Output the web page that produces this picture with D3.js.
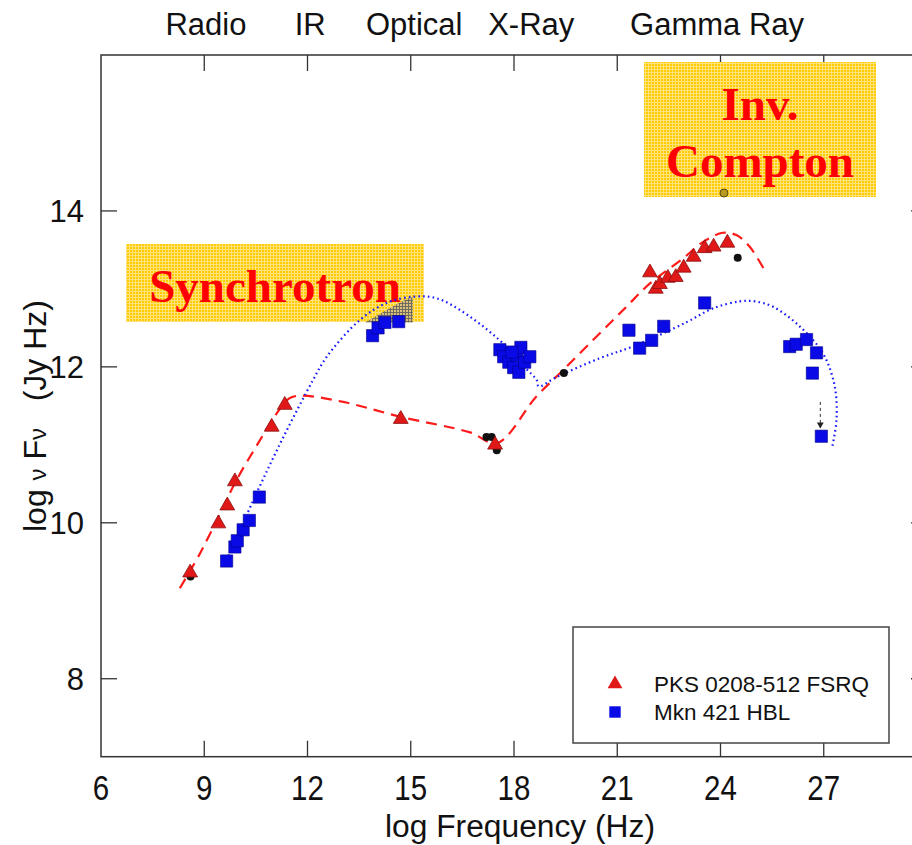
<!DOCTYPE html>
<meta charset="utf-8">
<html>
<head>
<style>
body { margin: 0; background: #fff; }
text { font-family: "Liberation Sans", Arial, sans-serif; fill: #111; }
.ann { font-family: "Liberation Serif", "Times New Roman", serif; font-weight: bold; fill: #ff0000; }
</style>
</head>
<body>
<svg id="chart" width="912" height="845"></svg>
<script src="https://d3js.org/d3.v7.min.js"></script>
<script>
// band labels along the top (log frequency where they sit)
var bandNames = ["Radio", "IR", "Optical", "X-Ray", "Gamma Ray"];
var bandPos = [9.05, 12.08, 15.1, 18.5, 23.9];

var xTicks = [6, 9, 12, 15, 18, 21, 24, 27];
var yTicks = [8, 10, 12, 14];

// PKS 0208-512 FSRQ (red triangles)
var fsrqX = [8.59, 9.41, 9.67, 9.89, 10.96, 11.34, 14.71, 17.45,
             21.95, 22.12, 22.24, 22.47, 22.7, 22.93, 23.22, 23.54, 23.8, 24.2];
var fsrqY = [9.36, 9.99, 10.22, 10.53, 11.23, 11.51, 11.33, 11.0,
             13.21, 13.0, 13.06, 13.14, 13.15, 13.27, 13.41, 13.52, 13.54, 13.59];

// Mkn 421 HBL (blue squares)
var hblX = [9.65, 9.89, 9.96, 10.13, 10.31, 10.6,
            13.89, 14.05, 14.25, 14.65,
            17.59, 17.7, 17.85, 17.99, 18.14, 18.08, 18.2, 18.31, 18.46, 17.94,
            21.34, 21.65, 22.0, 22.35, 23.54,
            26.01, 26.2, 26.5, 26.79, 26.67, 26.93];
var hblY = [9.51, 9.69, 9.77, 9.91, 10.03, 10.33,
            12.4, 12.5, 12.57, 12.58,
            12.22, 12.13, 12.06, 11.99, 11.93, 12.15, 12.25, 12.06, 12.13, 12.19,
            12.47, 12.24, 12.34, 12.52, 12.82,
            12.26, 12.29, 12.35, 12.18, 11.92, 11.11];

// model curves
var fsrqModelX = [8.29, 8.88, 9.46, 9.94, 10.62, 11.1, 11.49, 11.83, 13.04, 14.7, 16.72, 17.5,
                  18.65, 19.43, 20.4, 21.22, 21.95, 22.91, 23.49, 24.07, 24.46, 24.85, 25.33];
var fsrqModelY = [9.16, 9.61, 10.12, 10.55, 11.06, 11.4, 11.6, 11.63, 11.55, 11.36, 11.16, 11.02,
                  11.62, 11.96, 12.39, 12.75, 13.07, 13.39, 13.6, 13.72, 13.69, 13.54, 13.2];
var hblModelX = [9.65, 10.52, 11.3, 12.16, 12.56, 13.52, 14.3, 15.07, 15.75, 16.7, 17.78, 18.3, 18.66, 18.72,
                 19.24, 20.49, 21.5, 23.0, 23.78, 24.56, 25.0, 25.53, 26.3, 26.98, 27.32, 27.37, 27.25];
var hblModelY = [9.52, 10.38, 11.1, 11.83, 12.13, 12.6, 12.82, 12.9, 12.88, 12.65, 12.26, 12.0, 11.83, 11.75,
                 11.87, 12.11, 12.27, 12.57, 12.75, 12.84, 12.84, 12.77, 12.52, 12.17, 11.75, 11.32, 10.98];

// small black archival points
var otherX = [8.6, 17.2, 17.35, 17.5, 19.45, 24.5];
var otherY = [9.31, 11.1, 11.1, 10.93, 11.92, 13.4];

var svg = d3.select("#chart");

var x = d3.scaleLinear().domain([6, 30]).range([101, 927]);
var y = d3.scaleLinear().domain([7, 16]).range([756.7, 55]);

var defs = svg.append("defs");
var pat = defs.append("pattern").attr("id", "yel").attr("width", 3).attr("height", 3)
  .attr("patternUnits", "userSpaceOnUse");
pat.append("rect").attr("width", 3).attr("height", 3).attr("fill", "#ffcc00");
pat.append("path").attr("d", "M0,0.5H3M0.5,0V3").attr("stroke", "#ffe27a").attr("stroke-width", 1);
var gp = defs.append("pattern").attr("id", "gry").attr("width", 3).attr("height", 3)
  .attr("patternUnits", "userSpaceOnUse");
gp.append("rect").attr("width", 3).attr("height", 3).attr("fill", "#d8c27a");
gp.append("path").attr("d", "M0,0.5H3M0.5,0V3").attr("stroke", "#706a60").attr("stroke-width", 1);

// frame
svg.append("rect").attr("x", x(6)).attr("y", y(16))
  .attr("width", x(30) - x(6)).attr("height", y(7) - y(16))
  .attr("fill", "none").attr("stroke", "#333").attr("stroke-width", 1.5);

// ticks (inward on all sides)
var tk = svg.append("g").attr("stroke", "#333").attr("stroke-width", 1.3);
xTicks.slice(1).forEach(function(t) {
  tk.append("line").attr("x1", x(t)).attr("x2", x(t)).attr("y1", y(7)).attr("y2", y(7) - 16);
  tk.append("line").attr("x1", x(t)).attr("x2", x(t)).attr("y1", y(16)).attr("y2", y(16) + 16);
});
yTicks.forEach(function(t) {
  tk.append("line").attr("x1", x(6)).attr("x2", x(6) + 16).attr("y1", y(t)).attr("y2", y(t));
  tk.append("line").attr("x1", x(30)).attr("x2", x(30) - 16).attr("y1", y(t)).attr("y2", y(t));
});

// tick labels
svg.append("g").selectAll("text").data(xTicks).enter().append("text")
  .attr("transform", function(d) { return "translate(" + x(d) + ",800) scale(0.82,1)"; })
  .attr("text-anchor", "middle").attr("font-size", 36).text(function(d) { return d; });
svg.append("g").selectAll("text").data(yTicks).enter().append("text")
  .attr("x", 84).attr("y", function(d) { return y(d) + 11; })
  .attr("text-anchor", "end").attr("font-size", 31).text(function(d) { return d; });

// axis titles
svg.append("text").attr("x", 520).attr("y", 837).attr("text-anchor", "middle")
  .attr("font-size", 31).attr("textLength", 270).attr("lengthAdjust", "spacingAndGlyphs")
  .text("log Frequency (Hz)");
var yt = svg.append("text").attr("transform", "translate(46,416) rotate(-90)")
  .attr("text-anchor", "middle").attr("font-size", 32);
yt.append("tspan").text("log ");
yt.append("tspan").attr("font-size", 24).text("ν");
yt.append("tspan").text(" F");
yt.append("tspan").attr("font-size", 24).text("ν");
yt.append("tspan").text("\u00a0\u00a0\u00a0(Jy Hz)");

// band labels
svg.append("g").selectAll("text").data(bandNames).enter().append("text")
  .attr("x", function(d, i) { return x(bandPos[i]); }).attr("y", 35)
  .attr("text-anchor", "middle").attr("font-size", 31).text(function(d) { return d; });

// annotation boxes
svg.append("rect").attr("x", 126).attr("y", 244).attr("width", 298).attr("height", 78).attr("fill", "url(#yel)");
svg.append("rect").attr("x", 644).attr("y", 62).attr("width", 232).attr("height", 135).attr("fill", "url(#yel)");
svg.append("text").attr("class", "ann").attr("x", 275).attr("y", 302).attr("text-anchor", "middle")
  .attr("font-size", 47).text("Synchrotron");
svg.append("text").attr("class", "ann").attr("x", 760).attr("y", 120).attr("text-anchor", "middle")
  .attr("font-size", 47).text("Inv.");
svg.append("text").attr("class", "ann").attr("x", 760).attr("y", 177).attr("text-anchor", "middle")
  .attr("font-size", 47).text("Compton");

// optical archival patch
var patch = [[13.67, 12.57], [14.54, 12.79], [14.97, 12.89], [15.06, 12.89], [15.06, 12.57]];
svg.append("path").attr("d", d3.line().x(function(d) { return x(d[0]); }).y(function(d) { return y(d[1]); })(patch) + "Z")
  .attr("fill", "url(#gry)");

// model curves
var line = d3.line().curve(d3.curveCatmullRom.alpha(0.5));
svg.append("path")
  .attr("d", line(fsrqModelX.map(function(v, i) { return [x(v), y(fsrqModelY[i])]; })))
  .attr("fill", "none").attr("stroke", "#ff1a1a").attr("stroke-width", 2.2).attr("stroke-dasharray", "11,7");
svg.append("path")
  .attr("d", line(hblModelX.map(function(v, i) { return [x(v), y(hblModelY[i])]; })))
  .attr("fill", "none").attr("stroke", "#1a1aff").attr("stroke-width", 2.2).attr("stroke-dasharray", "1.6,3.2");

// black archival points
svg.append("g").selectAll("circle").data(otherX).enter().append("circle")
  .attr("cx", function(d) { return x(d); }).attr("cy", function(d, i) { return y(otherY[i]); })
  .attr("r", 4).attr("fill", "#111");
svg.append("circle").attr("cx", x(24.1)).attr("cy", y(14.23)).attr("r", 4)
  .attr("fill", "#b89a20").attr("stroke", "#5a4a10").attr("stroke-width", 1);
// upper limit arrow
svg.append("line").attr("x1", x(26.9)).attr("x2", x(26.9)).attr("y1", y(11.55)).attr("y2", y(11.22))
  .attr("stroke", "#333").attr("stroke-width", 1).attr("stroke-dasharray", "3,3");
svg.append("path").attr("d", d3.symbol(d3.symbolTriangle, 20)())
  .attr("transform", "translate(" + x(26.9) + "," + y(11.26) + ") rotate(180)").attr("fill", "#222");

// data markers
svg.append("g").selectAll("path").data(hblX).enter().append("path")
  .attr("d", d3.symbol(d3.symbolSquare, 150)())
  .attr("transform", function(d, i) { return "translate(" + x(d) + "," + y(hblY[i]) + ")"; })
  .attr("fill", "#0a0ae6").attr("stroke", "#00008a").attr("stroke-width", 0.6);
svg.append("g").selectAll("path").data(fsrqX).enter().append("path")
  .attr("d", d3.symbol(d3.symbolTriangle, 95)())
  .attr("transform", function(d, i) { return "translate(" + x(d) + "," + y(fsrqY[i]) + ")"; })
  .attr("fill", "#e01818").attr("stroke", "#8a1010").attr("stroke-width", 0.8);

// legend
var lg = svg.append("g");
lg.append("rect").attr("x", 573).attr("y", 627).attr("width", 316).attr("height", 116)
  .attr("fill", "#fff").attr("stroke", "#444").attr("stroke-width", 1.5);
lg.append("path").attr("d", d3.symbol(d3.symbolTriangle, 95)()).attr("transform", "translate(615,684)")
  .attr("fill", "#e01818");
lg.append("path").attr("d", d3.symbol(d3.symbolSquare, 130)()).attr("transform", "translate(615,712)")
  .attr("fill", "#0a0ae6");
lg.append("text").attr("x", 654).attr("y", 692).attr("font-size", 22.5).text("PKS 0208-512 FSRQ");
lg.append("text").attr("x", 654).attr("y", 720).attr("font-size", 22.5).text("Mkn 421 HBL");
</script>
</body>
</html>
